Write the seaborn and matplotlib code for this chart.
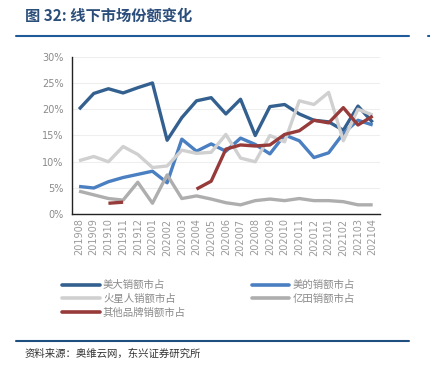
import numpy as np
import pandas as pd
import matplotlib
matplotlib.use("Agg")
import matplotlib.pyplot as plt
import seaborn as sns
from matplotlib.lines import Line2D

months = ["201908", "201909", "201910", "201911", "201912", "202001", "202002",
          "202003", "202004", "202005", "202006", "202007", "202008", "202009",
          "202010", "202011", "202012", "202101", "202102", "202103", "202104"]

meida = [20.0, 23.0, 23.9, 23.1, 24.1, 25.0, 14.1, 18.4, 21.6, 22.2, 19.1, 21.9,
         15.0, 20.5, 20.9, 19.1, 17.9, 17.6, 16.0, 20.6, 17.5]
midea = [5.3, 5.0, 6.2, 7.0, 7.6, 8.2, 6.0, 14.3, 12.0, 13.4, 12.0, 14.5,
         13.3, 11.5, 15.1, 14.0, 10.8, 11.7, 15.4, 17.9, 17.0]
huoxingren = [10.2, 11.0, 10.0, 12.9, 11.4, 8.9, 9.2, 12.2, 11.6, 11.8, 15.2, 10.7,
              10.0, 15.0, 13.8, 21.6, 20.9, 23.2, 14.0, 20.0, 18.9]
yitian = [4.4, 3.7, 3.0, 2.7, 6.1, 2.1, 7.5, 3.0, 3.5, 2.9, 2.2, 1.8,
          2.6, 2.9, 2.6, 3.0, 2.6, 2.6, 2.4, 1.8, 1.8]
others = [np.nan, np.nan, 2.1, 2.3, np.nan, np.nan, np.nan, np.nan, 4.8, 6.3, 12.4, 13.2,
          13.0, 13.2, 15.2, 15.9, 17.9, 17.4, 20.3, 17.0, 18.7]

names = ["美大销额市占", "美的销额市占", "火星人销额市占", "亿田销额市占", "其他品牌销额市占"]
series = [meida, midea, huoxingren, yitian, others]
colors = ["#33608F", "#4A7FC1", "#D0D0D0", "#AEAEAE", "#973A3A"]
yticks = [0, 5, 10, 15, 20, 25, 30]

sns.set_theme(style="white")
plt.rcParams["font.family"] = ["Noto Sans CJK SC", "DejaVu Sans"]

fig = plt.figure(figsize=(4.31, 3.77), dpi=100)
ax = fig.add_axes([0.1664, 0.4316, 0.7153, 0.418])

idx = np.arange(len(months))
for name, vals, col in zip(names, series, colors):
    v = np.array(vals, dtype=float)
    df = pd.DataFrame({"x": idx, "y": v})
    # split into contiguous segments so gaps remain gaps
    valid = ~np.isnan(v)
    seg_id = np.cumsum(~valid)
    df = df[valid].copy()
    df["seg"] = seg_id[valid]
    for _, sub in df.groupby("seg"):
        sns.lineplot(data=sub, x="x", y="y", ax=ax, color=col, linewidth=2.4,
                     legend=False, solid_capstyle="butt")

ax.set_xlim(-0.5, len(months) - 0.5)
ax.set_ylim(0, 30)
ax.set_yticks(yticks)
ax.set_yticklabels([f"{t}%" for t in yticks], fontsize=7, color="#8A8A8A",
                   family="DejaVu Sans")
ax.set_xticks(np.arange(len(months) + 1) - 0.5)
ax.set_xticklabels([])
ax.set_xticks(idx, minor=True)
ax.set_xticklabels(months, minor=True, rotation=90, fontsize=7, color="#9A9A9A",
                   family="DejaVu Sans")
ax.tick_params(axis="x", which="minor", length=0, pad=3)
ax.tick_params(axis="x", which="major", direction="in", length=3, width=0.8, color="#222222")
ax.tick_params(axis="y", direction="in", length=3, width=0.8, color="#222222", pad=6)
ax.set_xlabel("")
ax.set_ylabel("")
ax.grid(axis="y", color="#EEEEEE", linewidth=0.8)
ax.set_axisbelow(True)
for s in ["top", "right"]:
    ax.spines[s].set_visible(False)
for s in ["left", "bottom"]:
    ax.spines[s].set_color("#222222")
    ax.spines[s].set_linewidth(1.0)

handles = [Line2D([0], [0], color=c, linewidth=2.6) for c in colors]
order = [0, 2, 4, 1, 3]
leg = fig.legend([handles[i] for i in order], [names[i] for i in order],
                 loc="upper left", bbox_to_anchor=(0.135, 0.268), ncol=2,
                 frameon=False, fontsize=7.5, handlelength=3.6, handletextpad=0.3,
                 columnspacing=6.3, labelspacing=0.35, borderaxespad=0)
for t in leg.get_texts():
    t.set_color("#8A8A8A")

fig.text(25 / 431, 1 - 16 / 377, "图 32: 线下市场份额变化", fontsize=11, fontweight="bold",
         color="#2B4E7A", va="center", ha="left")
fig.add_artist(Line2D([16 / 431, 409 / 431], [1 - 36 / 377] * 2, color="#1F5A9A", linewidth=1.5))
fig.add_artist(Line2D([428 / 431, 1.0], [1 - 36 / 377] * 2, color="#1F5A9A", linewidth=1.5))
fig.add_artist(Line2D([16 / 431, 409 / 431], [1 - 341 / 377] * 2, color="#1F4E80", linewidth=1.5))
fig.text(25 / 431, 1 - 354 / 377, "资料来源：奥维云网，东兴证券研究所", fontsize=7.5,
         style="italic", color="#333333", va="center", ha="left")

fig.savefig("out.png", dpi=100)
